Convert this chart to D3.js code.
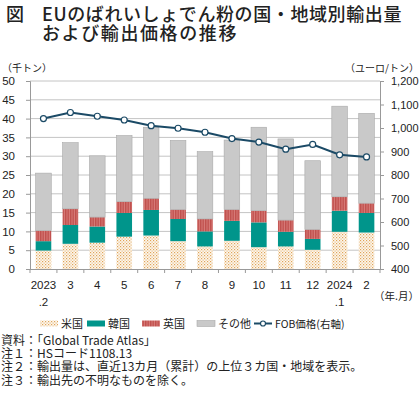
<!DOCTYPE html>
<html>
<head>
<meta charset="utf-8">
<script src="https://cdn.jsdelivr.net/npm/d3@7"></script>
<style>
  body { margin: 0; background: #fff; }
  svg { display: block; }
  text { font-family: "Noto Sans CJK JP", "Liberation Sans", sans-serif; fill: #222; }
  .num { font-family: "Liberation Sans", Arial, sans-serif; }
</style>
</head>
<body>
<svg id="chart" width="420" height="393"></svg>
<script>
// month labels (two lines)
var monthTop = ["2023", "3", "4", "5", "6", "7", "8", "9", "10", "11", "12", "2024", "2"];
var monthSub = [".2", "", "", "", "", "", "", "", "", "", "", ".1", ""];

// export volumes (thousand tonnes)
var usa    = [4.9, 6.7, 7.0, 8.6, 8.9, 7.4, 6.0, 7.5, 5.8, 6.0, 5.1, 9.9, 9.7];
var korea  = [2.5, 5.0, 4.3, 6.3, 6.8, 5.9, 4.0, 5.3, 6.6, 3.9, 2.9, 5.6, 5.2];
var uk     = [2.8, 4.3, 2.5, 3.0, 3.1, 2.5, 3.3, 3.0, 3.1, 3.1, 2.5, 3.7, 2.6];
var others = [15.3, 17.6, 16.3, 17.6, 18.9, 18.4, 17.9, 18.5, 22.2, 21.6, 18.3, 24.1, 23.9];

// FOB price (euro / tonne)
var fob = [1040, 1066, 1050, 1034, 1010, 999, 982, 955, 940, 910, 930, 886, 877];

var leftTicks = [0, 5, 10, 15, 20, 25, 30, 35, 40, 45, 50];
var rightTicks = [400, 500, 600, 700, 800, 900, 1000, 1100, 1200];

var svg = d3.select("#chart");

// patterns
var defs = svg.append("defs");
var pUs = defs.append("pattern").attr("id", "pUs").attr("patternUnits", "userSpaceOnUse")
  .attr("width", 3).attr("height", 3);
pUs.append("rect").attr("width", 3).attr("height", 3).attr("fill", "#fdf7ee");
pUs.append("rect").attr("x", 0).attr("y", 0).attr("width", 1.2).attr("height", 1.2).attr("fill", "#e0a55a");
pUs.append("rect").attr("x", 1.5).attr("y", 1.5).attr("width", 1.2).attr("height", 1.2).attr("fill", "#e8bb80");

var pUk = defs.append("pattern").attr("id", "pUk").attr("patternUnits", "userSpaceOnUse")
  .attr("width", 2.5).attr("height", 3);
pUk.append("rect").attr("width", 2.5).attr("height", 3).attr("fill", "#c0504d");
pUk.append("rect").attr("x", 1.5).attr("width", 0.8).attr("height", 3).attr("fill", "#e08a86");

var colors = { usa: "url(#pUs)", korea: "#00958b", uk: "url(#pUk)", others: "#c9c9c9" };

var x = d3.scaleBand().domain(d3.range(monthTop.length)).range([30, 380])
  .paddingInner(0.42).paddingOuter(0.21);
var yL = d3.scaleLinear().domain([0, 50]).range([269, 81]);
var yR = d3.scaleLinear().domain([400, 1200]).range([269, 81]);

// title
svg.append("text").attr("x", 6).attr("y", 20.5).style("font-size", "18px").style("font-weight", 500).text("図");
svg.append("text").attr("x", 42).attr("y", 20.5).style("font-size", "18px").style("font-weight", 500)
  .style("letter-spacing", "0.6px").text("EUのばれいしょでん粉の国・地域別輸出量");
svg.append("text").attr("x", 42).attr("y", 40).style("font-size", "18px").style("font-weight", 500)
  .style("letter-spacing", "1.6px").text("および輸出価格の推移");

// units
svg.append("text").attr("x", 2).attr("y", 72).style("font-size", "10px").text("（千トン）");
svg.append("text").attr("x", 419).attr("y", 72).attr("text-anchor", "end").style("font-size", "10px").text("（ユーロ/トン）");

// grid
svg.append("g").selectAll("line").data(leftTicks.slice(1)).enter().append("line")
  .attr("x1", 30).attr("x2", 380)
  .attr("y1", function(d){ return yL(d) }).attr("y2", function(d){ return yL(d) })
  .attr("stroke", "#c4c4c4").attr("stroke-width", 1);

// axes
var axL = svg.append("g").attr("transform", "translate(30,0)")
  .call(d3.axisLeft(yL).tickValues(leftTicks).tickSize(4).tickPadding(11));
var axR = svg.append("g").attr("transform", "translate(380,0)")
  .call(d3.axisRight(yR).tickValues(rightTicks).tickSize(4).tickPadding(7).tickFormat(d3.format(",")));
[axL, axR].forEach(function(a){
  a.select(".domain").attr("stroke", "#999");
  a.selectAll(".tick line").attr("stroke", "#999");
  a.selectAll(".tick text").attr("class", "num").attr("fill", "#222");
});
axL.selectAll(".tick text").style("font-size", "11.5px");
axR.selectAll(".tick text").style("font-size", "11px");

// bars
var rows = d3.range(monthTop.length).map(function(i){
  return { i: i, usa: usa[i], korea: korea[i], uk: uk[i], others: others[i] };
});
var keys = ["usa", "korea", "uk", "others"];
var stack = d3.stack().keys(keys)(rows);
svg.append("g").selectAll("g").data(stack).enter().append("g")
  .attr("fill", function(s){ return colors[s.key] })
  .attr("stroke", function(s){ return s.key == "others" ? "#a9a9a9" : "none" })
  .attr("stroke-width", 0.6)
  .selectAll("rect").data(function(s){ return s }).enter().append("rect")
    .attr("x", function(d){ return x(d.data.i) })
    .attr("width", x.bandwidth())
    .attr("y", function(d){ return yL(d[1]) })
    .attr("height", function(d){ return yL(d[0]) - yL(d[1]) });

// x axis
var xb = svg.append("g");
xb.append("line").attr("x1", 30).attr("x2", 380).attr("y1", 269.5).attr("y2", 269.5).attr("stroke", "#999");
xb.selectAll("line.t").data(d3.range(monthTop.length + 1)).enter().append("line").attr("class", "t")
  .attr("x1", function(d){ return 30 + d * x.step() }).attr("x2", function(d){ return 30 + d * x.step() })
  .attr("y1", 269).attr("y2", 273).attr("stroke", "#999");
xb.selectAll("text.m").data(monthTop).enter().append("text").attr("class", "num m")
  .attr("x", function(d, i){ return x(i) + x.bandwidth() / 2 }).attr("y", 289)
  .attr("text-anchor", "middle").style("font-size", "11.5px").text(function(d){ return d });
xb.selectAll("text.s").data(monthSub).enter().append("text").attr("class", "num s")
  .attr("x", function(d, i){ return x(i) + x.bandwidth() / 2 }).attr("y", 306)
  .attr("text-anchor", "middle").style("font-size", "11.5px").text(function(d){ return d });
svg.append("text").attr("x", 419).attr("y", 300).attr("text-anchor", "end").style("font-size", "10.5px").text("（年.月）");

// FOB line
var line = d3.line().x(function(d, i){ return x(i) + x.bandwidth() / 2 }).y(function(d){ return yR(d) });
svg.append("path").datum(fob).attr("d", line).attr("fill", "none").attr("stroke", "#1b4a66").attr("stroke-width", 2);
svg.append("g").selectAll("circle").data(fob).enter().append("circle")
  .attr("cx", function(d, i){ return x(i) + x.bandwidth() / 2 }).attr("cy", function(d){ return yR(d) })
  .attr("r", 3).attr("fill", "#fff").attr("stroke", "#1b4a66").attr("stroke-width", 1.2);

// legend
var legend = [
  { name: "米国", key: "usa", x: 40 },
  { name: "韓国", key: "korea", x: 87 },
  { name: "英国", key: "uk", x: 142 },
  { name: "その他", key: "others", x: 197 }
];
var lg = svg.append("g");
lg.selectAll("rect").data(legend).enter().append("rect")
  .attr("x", function(d){ return d.x }).attr("y", 320.5).attr("width", 18).attr("height", 6)
  .attr("fill", function(d){ return colors[d.key] })
  .attr("stroke", function(d){ return d.key == "others" ? "#a9a9a9" : "none" }).attr("stroke-width", 0.6);
lg.selectAll("text").data(legend).enter().append("text")
  .attr("x", function(d){ return d.x + 21 }).attr("y", 327.5).style("font-size", "11px")
  .text(function(d){ return d.name });
lg.append("line").attr("x1", 254).attr("x2", 272).attr("y1", 323.5).attr("y2", 323.5).attr("stroke", "#1b4a66").attr("stroke-width", 2);
lg.append("circle").attr("cx", 263).attr("cy", 323.5).attr("r", 2.5).attr("fill", "#fff").attr("stroke", "#1b4a66").attr("stroke-width", 1.2);
lg.append("text").attr("x", 275).attr("y", 327.5).style("font-size", "10.5px").text("FOB価格(右軸)");

// notes
var notes = [
  "資料：「Global Trade Atlas」",
  "注１：HSコード1108.13",
  "注２：輸出量は、直近13カ月（累計）の上位３カ国・地域を表示。",
  "注３：輸出先の不明なものを除く。"
];
svg.append("g").selectAll("text").data(notes).enter().append("text")
  .attr("x", 1).attr("y", function(d, i){ return 345 + i * 13.2 })
  .style("font-size", "12px").text(function(d){ return d });
</script>
</body>
</html>
